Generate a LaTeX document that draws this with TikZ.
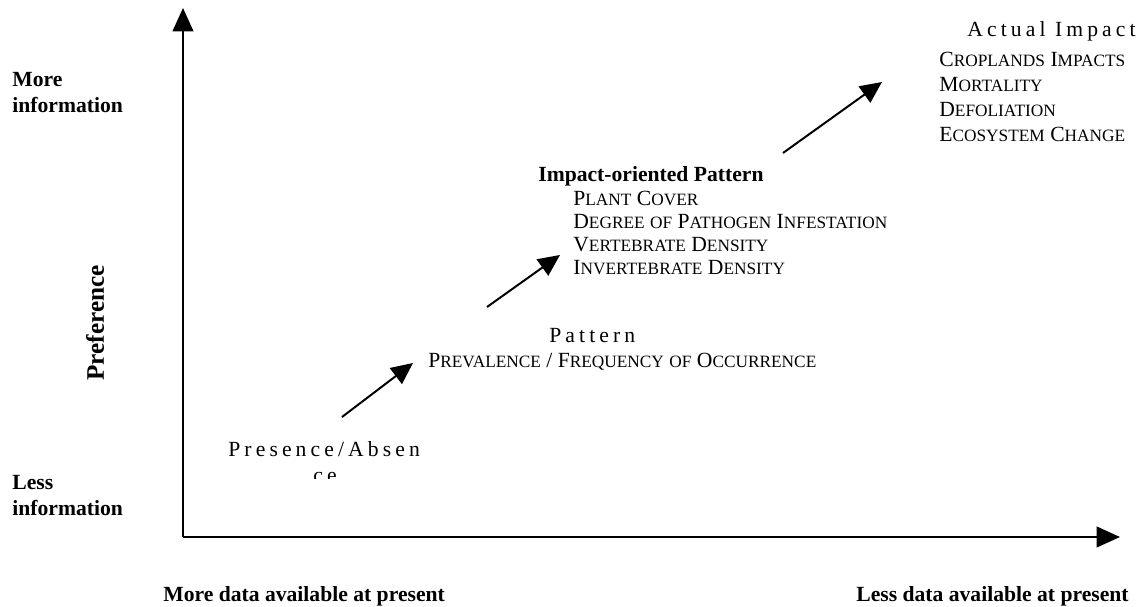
\documentclass[tikz,border=0pt]{standalone}
\usepackage{fontspec}
\setmainfont{Liberation Serif}
\usetikzlibrary{arrows.meta}
\newcommand{\smc}[2]{#1{\fontsize{9.6}{11}\selectfont #2}}
\newcommand{\spaced}{\addfontfeature{LetterSpace=19}}
\tikzset{
    lab/.style={inner sep=0pt, font=\fontsize{12}{14.4}\selectfont\bfseries, align=left},
    lst/.style={inner sep=0pt, font=\fontsize{12}{13.3}\selectfont, align=left},
    axis/.style={line width=1.2pt, -{Triangle[length=13pt,width=11.5pt]}},
    pointer/.style={line width=1.1pt, -{Triangle[length=12pt,width=11pt]}}
}
\begin{document}
\begin{tikzpicture}[x=0.555pt,y=-0.555pt]
                \useasboundingbox ( 0, 0 ) rectangle ( 1146, 607 );
% оси
                \coordinate (o) at ( 183, 537 );
                \coordinate (ytop) at ( 183, 8 );
                \coordinate (xend) at ( 1120, 537 );
                \draw [axis] (o) -- (ytop);
                \draw [axis] (o) -- (xend);

% подписи осей
                \node [lab, anchor=north west] (moreinfo) at ( 12, 72 ) {More\\information};
                \node [lab, anchor=north west] (lessinfo) at ( 12, 475 ) {Less\\information};
                \node [lab, font=\fontsize{14}{16}\selectfont\bfseries, rotate=90] (pref) at ( 95, 323 ) {Preference};
                \node [lab, anchor=base west] (moredata) at ( 163, 601 ) {More data available at present};
                \node [lab, anchor=base east] (lessdata) at ( 1129, 601 ) {Less data available at present};

% уровни
                \node [lst, anchor=base west] (pres) at ( 228, 457 ) {\spaced Presence/Absen};
                \begin{scope}
                    \clip ( 300, 468 ) rectangle ( 350, 479 );
                    \node [lst, anchor=base west] (presb) at ( 313, 483 ) {\spaced ce};
                \end{scope}

                \node [lst, anchor=base west] (pat) at ( 549, 343 ) {\spaced Pattern};
                \node [lst, anchor=base west] (prev) at ( 428, 368 )
                    {\smc{P}{REVALENCE} / \smc{F}{REQUENCY} \smc{}{OF} \smc{O}{CCURRENCE}};

                \node [lab, anchor=base west] (imp) at ( 538, 182 ) {Impact-oriented Pattern};
                \node [lst, anchor=north west, font=\fontsize{12}{12.8}\selectfont] (implist) at ( 573, 190.5 )
                    {\smc{P}{LANT} \smc{C}{OVER}\\
                     \smc{D}{EGREE} \smc{}{OF} \smc{P}{ATHOGEN} \smc{I}{NFESTATION}\\
                     \smc{V}{ERTEBRATE} \smc{D}{ENSITY}\\
                     \smc{I}{NVERTEBRATE} \smc{D}{ENSITY}};

                \node [lst, anchor=base west] (act) at ( 967, 37 ) {\spaced Actual Impact};
                \node [lst, anchor=north west, font=\fontsize{12}{13.9}\selectfont] (actlist) at ( 939, 51.5 )
                    {\smc{C}{ROPLANDS} \smc{I}{MPACTS}\\
                     \smc{M}{ORTALITY}\\
                     \smc{D}{EFOLIATION}\\
                     \smc{E}{COSYSTEM} \smc{C}{HANGE}};

% стрелки
                \coordinate (a1) at ( 342, 417 );
                \coordinate (b1) at ( 413, 363 );
                \coordinate (a2) at ( 487, 307 );
                \coordinate (b2) at ( 560, 255 );
                \coordinate (a3) at ( 783, 153 );
                \coordinate (b3) at ( 882, 82 );
                \draw [pointer] (a1) -- (b1);
                \draw [pointer] (a2) -- (b2);
                \draw [pointer] (a3) -- (b3);
\end{tikzpicture}
\end{document}
